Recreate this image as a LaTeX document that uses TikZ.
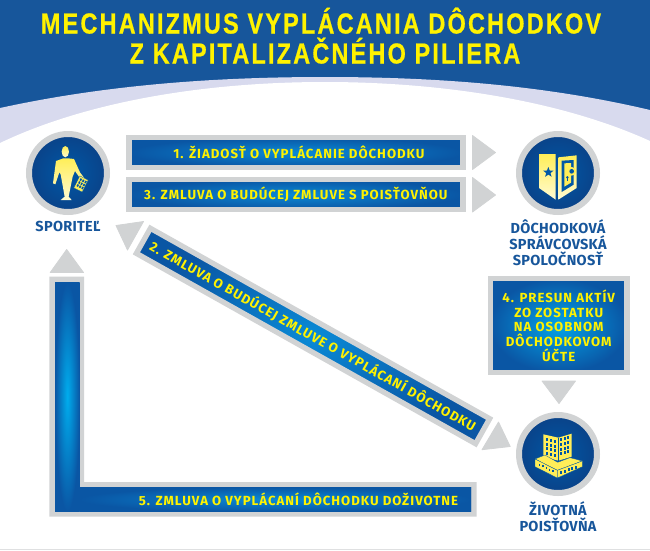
\documentclass[tikz,border=0pt]{standalone}
\usepackage{fontspec}
\usetikzlibrary{shapes.geometric}
\newfontfamily\titlefont[FakeStretch=0.81,LetterSpace=7.5,FakeBold=0.6]{Liberation Sans}
\newfontfamily\barfont[LetterSpace=7.5]{Fira Sans}
\newfontfamily\labelfont[LetterSpace=2]{Fira Sans}
\definecolor{bandblue}{HTML}{17569B}
\definecolor{lilac}{HTML}{D8DAEE}
\definecolor{framegray}{HTML}{D1D3D4}
\definecolor{deepblue}{HTML}{0A56A4}
\definecolor{brightblue}{HTML}{0A8AD6}
\definecolor{cyanblue}{HTML}{00ADEE}
\definecolor{textyellow}{HTML}{FFF200}
\definecolor{iconyellow}{HTML}{FFEE58}
\definecolor{iconpale}{HTML}{FFFBD2}
\definecolor{discin}{HTML}{0058A6}
\definecolor{discout}{HTML}{0A4288}
\tikzset{
  barbox/.style={draw=framegray,line width=5.3pt,inner color=brightblue,outer color=deepblue,
    font=\barfont\bfseries\fontsize{13.2}{14.7}\selectfont,text=textyellow,align=center,inner sep=0pt},
  bartext/.style={font=\barfont\bfseries\fontsize{13.2}{14.7}\selectfont,text=textyellow,align=center,inner sep=0pt},
  glow/.style={inner color=cyanblue,outer color=deepblue,inner sep=0pt},
  arrowtri/.style={fill=framegray,draw=framegray,line width=0.8pt,line join=round},
  ring/.style={circle,draw=framegray,line width=6pt,inner color=discin,outer color=discout,minimum size=78pt,inner sep=0pt},
  caption/.style={font=\labelfont\bfseries\fontsize{14.5}{16}\selectfont,text=bandblue,align=center,inner sep=0pt},
  headline/.style={font=\titlefont\bfseries\fontsize{29}{30}\selectfont,text=textyellow,inner sep=0pt,anchor=base},
  iconfill/.style={top color=iconyellow,bottom color=iconpale},
  zoomA/.style={shift={(30pt,-135pt)},x=0.3333pt,y=-0.3333pt},
  zoomB/.style={shift={(525pt,-138pt)},x=0.3333pt,y=-0.3333pt},
  zoomC/.style={shift={(525pt,-415pt)},x=0.3333pt,y=-0.3333pt},
}
\begin{document}
\begin{tikzpicture}[x=1pt,y=-1pt]
\useasboundingbox (0,0) rectangle (650,550);
% background
\fill[white] (0,0) rectangle (650,550);
\fill[framegray!70] (0,548.8) rectangle (650,550);
\fill[bandblue] (0,0) rectangle (650,140);
\fill[lilac] (0,108) .. controls (110,84) and (220,77) .. (325,77) .. controls (430,77) and (540,84) .. (650,110) -- (650,160) -- (0,160) -- cycle;
\fill[white] (0,143) .. controls (90,100) and (210,82) .. (325,82) .. controls (440,82) and (560,100) .. (650,141) -- (650,170) -- (0,170) -- cycle;
% title
\node[headline] (title1) at (321,33.5) {MECHANIZMUS VYPLÁCANIA DÔCHODKOV};
\node[headline] (title2) at (325,63.5) {Z KAPITALIZAČNÉHO PILIERA};
% bars
\node[barbox,minimum width=334pt,minimum height=30pt] (bar1) at (295.9,152.5) {\hspace{6pt}1. ŽIADOSŤ O VYPLÁCANIE DÔCHODKU};
\node[barbox,minimum width=334pt,minimum height=30pt] (bar3) at (295.9,194.5) {3. ZMLUVA O BUDÚCEJ ZMLUVE S POISŤOVŇOU};
\node[barbox,minimum width=136.5pt,minimum height=93.5pt,inner color=cyanblue!70!brightblue] (bar4) at (558.7,325.5) {4. PRESUN AKTÍV\\ZO ZOSTATKU\\NA OSOBNOM\\DÔCHODKOVOM\\ÚČTE};
\node[barbox,minimum width=389pt,minimum height=28.7pt,rotate=-29.3] (bar2) at (313,336) {2. ZMLUVA O BUDÚCEJ ZMLUVE O VYPLÁCANÍ DÔCHODKU};
% L shaped bar
\fill[framegray] (49.3,276.5) -- (84,276.5) -- (84,482) -- (476.7,482) -- (476.7,516.7) -- (49.3,516.7) -- cycle;
\fill[deepblue] (55,282.5) -- (79.5,282.5) -- (79.5,487) -- (471,487) -- (471,511.7) -- (55,511.7) -- cycle;
\node[glow,minimum width=24.5pt,minimum height=229pt] (bar5v) at (67.25,397) {};
\node[glow,inner color=brightblue,minimum width=391.5pt,minimum height=24.7pt] (bar5h) at (275.25,499.35) {};
\node[bartext] (bar5t) at (298.5,499.3) {5. ZMLUVA O VYPLÁCANÍ DÔCHODKU DOŽIVOTNE};
% arrow triangles
\fill[arrowtri] (472.5,135.5) -- (495.5,152.5) -- (472.5,169.5) -- cycle;
\fill[arrowtri] (472.5,177.5) -- (495.5,195) -- (472.5,212) -- cycle;
\fill[arrowtri] (542,381) -- (575.5,381) -- (559,403.5) -- cycle;
\fill[arrowtri] (116,225.5) -- (143.5,221.5) -- (127.5,250) -- cycle;
\fill[arrowtri] (498.5,422) -- (510.2,446.5) -- (482,449.7) -- cycle;
\fill[arrowtri] (66.7,249.5) -- (83.5,272.5) -- (50.2,272.5) -- cycle;
% discs
\node[ring] (saver) at (68,173) {};
\node[ring] (fund) at (558,173) {};
\node[ring] (insurer) at (558,454) {};
% captions
\node[caption] (saverlabel) at (68,226.5) {SPORITEĽ};
\node[caption] (fundlabel) at (558,242.5) {DÔCHODKOVÁ\\SPRÁVCOVSKÁ\\SPOLOČNOSŤ};
\node[caption] (insurerlabel) at (558,516.5) {ŽIVOTNÁ\\POISŤOVŇA};
% man
\begin{scope}[zoomA]
\shade[iconfill] (106,50) ellipse (11 and 17);
\shade[iconfill] (78,78) -- (100,70) -- (115,70) -- (132,72) -- (150,112) -- (165,132) -- (156,138) -- (135,108) -- (128,125) -- (116,185) -- (125,195) -- (92,195) -- (104,185) -- (92,118) -- (88,112) -- (76,148) -- (69,145) -- cycle;
\begin{scope}[shift={(153,147)},rotate=-27]
\fill[iconyellow,draw=discin,line width=0.3pt] (-14,-20) rectangle (14,20);
\foreach \a in {-9,-1,7} \foreach \b in {-15,-5,5} \fill[discin] (\a,\b) rectangle +(5,7);
\end{scope}
\end{scope}
% safe
\begin{scope}[zoomB]
\shade[iconfill] (42,48) -- (92,48) -- (92,185) -- (42,150) -- cycle;
\node[star,star points=5,star point ratio=2.4,fill=discin,minimum size=11pt,inner sep=0pt] (safestar) at (70,103) {};
\shade[iconfill] (100,58) -- (155,52) -- (155,150) -- (100,185) -- cycle;
\fill[discin] (110,68) -- (146,66) -- (146,140) -- (110,162) -- cycle;
\fill[iconyellow] (118,76) -- (138,75) -- (138,134) -- (118,146) -- cycle;
\fill[iconyellow] (140,100) circle (13);
\fill[discin] (140,100) circle (7);
\fill[discin] (127,118) circle (4);
\fill[discin] (125,118) rectangle (129,130);
\end{scope}
% building
\begin{scope}[zoomC,line join=round]
\fill[iconyellow] (55,58) -- (100,68) -- (140,56) -- (140,125) -- (100,137) -- (55,125) -- cycle;
\draw[discin,line width=0.4pt] (100,68) -- (100,137);
\foreach \a in {0,1,2} \foreach \b in {0,1,2,3}
  \fill[discin] ({62+\a*12},{69+\a*3+\b*14}) rectangle +(6,9);
\foreach \a in {0,1,2} \foreach \b in {0,1,2,3}
  \fill[discin] ({105+\a*11},{70-\a*3+\b*14}) rectangle +(6,9);
\fill[iconyellow,draw=discin,line width=0.3pt] (30,132) -- (60,120) -- (98,142) -- (135,128) -- (172,138) -- (97,166) -- cycle;
\fill[iconyellow,draw=discin,line width=0.3pt] (30,132) -- (97,166) -- (97,189) -- (30,155) -- cycle;
\fill[iconyellow,draw=discin,line width=0.3pt] (97,166) -- (172,138) -- (172,155) -- (97,189) -- cycle;
\foreach \a in {0,1,2,3,4} \fill[discin] ({42+\a*10},{146+\a*5}) rectangle +(4,6);
\foreach \a in {0,1,2,3,4} \fill[discin] ({106+\a*11},{168-\a*4}) rectangle +(6,9);
\end{scope}
\end{tikzpicture}
\end{document}
